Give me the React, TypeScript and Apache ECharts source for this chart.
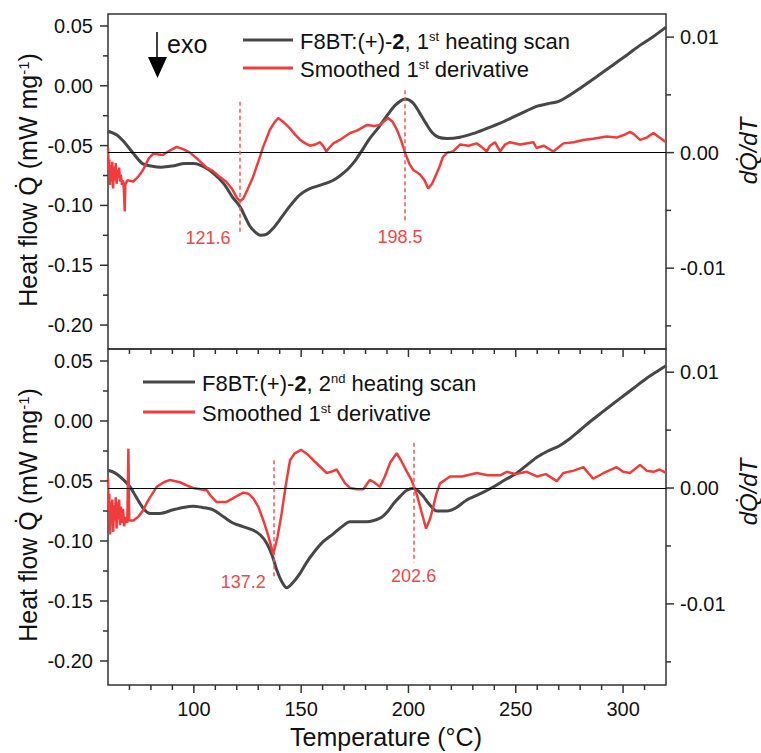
import React, { useEffect, useRef } from "react";
import * as echarts from "echarts";

const FONT = '"Liberation Sans", Arial, Helvetica, sans-serif';
const BLACK = "#474747";
const RED = "#f03c3c";
const RED_TXT = "#f04848";
const AXIS = "#333333";

// ---------- tick values ----------
const xMajorTicks = [100, 150, 200, 250, 300];
const xMinorTicks = [70, 80, 90, 110, 120, 130, 140, 160, 170, 180, 190, 210, 220, 230, 240, 260, 270, 280, 290, 310];
const qMajorTicks = [-0.2, -0.15, -0.1, -0.05, 0, 0.05];
const qMinorTicks = [-0.175, -0.125, -0.075, -0.025, 0.025];
const dMajorTicks = [-0.01, 0, 0.01];
const dMinorTicks = [-0.015, -0.005, 0.005];

// ---------- 1st heating: heat flow ----------
const heat1T = [60, 64, 68, 72, 76, 80, 85, 90, 96, 100, 105, 109, 114, 118, 121.5, 126, 129, 131, 134, 137, 140, 145, 149.5, 154, 159, 165, 171, 175, 178, 182, 186, 190, 194, 198.4, 202, 205, 208, 211, 214, 218, 224, 230, 236, 243, 249, 255, 260, 265, 270, 275, 280, 288, 295, 302, 308, 314, 320];
const heat1Q = [-0.038, -0.041, -0.048, -0.057, -0.065, -0.067, -0.068, -0.067, -0.065, -0.065, -0.068, -0.073, -0.082, -0.093, -0.101, -0.117, -0.123, -0.125, -0.124, -0.119, -0.112, -0.1, -0.091, -0.086, -0.083, -0.079, -0.071, -0.063, -0.055, -0.044, -0.035, -0.025, -0.016, -0.011, -0.014, -0.022, -0.031, -0.039, -0.043, -0.044, -0.043, -0.04, -0.036, -0.031, -0.026, -0.021, -0.017, -0.015, -0.013, -0.008, -0.002, 0.008, 0.017, 0.026, 0.034, 0.041, 0.049];

// ---------- 1st heating: smoothed derivative ----------
const deriv1T = [60, 60.3, 60.6, 61, 61.3, 61.7, 62, 62.4, 62.8, 63.2, 63.6, 64, 64.4, 64.8, 65.2, 65.6, 66, 66.5, 67, 67.4, 67.8, 68.1, 69, 71.8, 74, 76.3, 79, 81, 85.6, 89, 92, 95, 98.2, 102, 106, 109, 112, 115, 118, 120, 121.5, 123, 125, 127.6, 130, 132.3, 135.5, 137.5, 139.3, 142, 144.8, 147, 149.5, 152, 154, 156.5, 158.8, 160.5, 161.7, 163, 165, 168, 172.8, 176, 180.7, 184, 186.7, 190.5, 192.5, 194.6, 196.5, 198.4, 200.5, 202.3, 205.4, 207.5, 209.2, 211, 212.4, 214.5, 216, 218, 220.8, 224, 228, 231.8, 234, 236.5, 238, 240.3, 242.7, 245, 247.3, 252, 258.2, 259.7, 263, 267.5, 272.2, 277, 281.5, 286, 292.4, 297, 300, 303.2, 305, 307.9, 311, 314.1, 317, 320];
const deriv1D = [0.0004, -0.0015, -0.0006, -0.0028, -0.0011, -0.0025, -0.0008, -0.0031, -0.0012, -0.0024, -0.0009, -0.0027, -0.0015, -0.0022, -0.0013, -0.0025, -0.0019, -0.0028, -0.0024, -0.0032, -0.0051, -0.0027, -0.0024, -0.0025, -0.0021, -0.0015, -0.0005, -0.0001, -0.0002, 0.0002, 0.0005, 0.0003, 0.0, -0.0006, -0.0013, -0.0016, -0.0021, -0.0025, -0.0032, -0.0039, -0.0042, -0.004, -0.0032, -0.0021, -0.0008, 0.0005, 0.002, 0.0026, 0.003, 0.0026, 0.0021, 0.0016, 0.0011, 0.0008, 0.0006, 0.0007, 0.0009, 0.0005, 0.0001, 0.0004, 0.0008, 0.0011, 0.0017, 0.0019, 0.0024, 0.0023, 0.0024, 0.003, 0.0027, 0.002, 0.0011, 0.0, -0.001, -0.0015, -0.0019, -0.0024, -0.0031, -0.0027, -0.0021, -0.0012, -0.0004, 0.0, 0.0001, 0.0007, 0.0006, 0.0008, 0.0005, 0.0001, 0.0006, 0.0009, 0.0001, 0.0007, 0.0009, 0.0007, 0.0009, 0.0004, 0.0006, 0.0001, 0.0008, 0.0009, 0.0011, 0.0012, 0.0014, 0.0013, 0.0015, 0.0018, 0.0016, 0.0011, 0.0013, 0.0017, 0.0013, 0.0009];

// ---------- 2nd heating: heat flow ----------
const heat2T = [60, 63, 66, 70.3, 73, 75, 77, 79.6, 84.2, 90.3, 95, 99.7, 104, 109, 114, 118.2, 123, 127.6, 131, 134, 136.5, 138.6, 141, 143.3, 146, 149.5, 152.5, 155.7, 160, 165, 169, 172.8, 176, 180.6, 186.7, 190, 193, 196, 199, 202.3, 205, 207, 210, 213.2, 217.8, 222, 227, 233, 239.5, 245, 250, 256, 260, 265, 270, 275, 280, 285, 290, 298, 305, 311, 316, 320];
const heat2Q = [-0.041, -0.043, -0.047, -0.055, -0.063, -0.069, -0.074, -0.077, -0.077, -0.074, -0.072, -0.071, -0.072, -0.074, -0.08, -0.085, -0.088, -0.091, -0.095, -0.102, -0.112, -0.124, -0.134, -0.139, -0.135, -0.127, -0.118, -0.11, -0.101, -0.094, -0.088, -0.084, -0.084, -0.084, -0.081, -0.076, -0.069, -0.063, -0.058, -0.056, -0.059, -0.063, -0.07, -0.075, -0.075, -0.0725, -0.066, -0.061, -0.055, -0.049, -0.044, -0.0355, -0.03, -0.025, -0.021, -0.015, -0.0075, 0.0, 0.007, 0.018, 0.0275, 0.0356, 0.0415, 0.046];

// ---------- 2nd heating: smoothed derivative ----------
const deriv2T = [60, 60.3, 60.6, 61, 61.3, 61.7, 62, 62.4, 62.8, 63.2, 63.6, 64, 64.4, 64.8, 65.2, 65.6, 66, 66.5, 67, 67.5, 68.2, 69, 69.5, 69.9, 71.8, 74, 76.5, 78, 79.6, 82.7, 86, 88.9, 93.5, 97, 99.7, 103, 106, 108, 110.5, 113, 115.2, 119, 123, 125.5, 127.7, 130, 132.4, 134.5, 137, 139, 140.9, 142.8, 144.8, 147, 150, 153, 155.7, 158.5, 161.9, 164, 166.5, 168.5, 170.5, 172.8, 176, 179, 180.5, 182, 184, 186.7, 189, 191.5, 194.5, 196.5, 199, 201.4, 203.8, 206, 208.2, 210, 211.6, 213, 214.7, 219.4, 225, 231.8, 237, 242.7, 245.8, 250, 255.1, 259.8, 264, 269.1, 272.2, 277, 281.5, 286.1, 291, 297, 300, 303.2, 307.9, 311, 314.1, 317, 320];
const deriv2D = [0.0009, -0.002, -0.0005, -0.004, -0.0012, -0.003, -0.001, -0.0038, -0.0015, -0.0028, -0.0008, -0.0035, -0.0012, -0.0027, -0.001, -0.0032, -0.0016, -0.003, -0.0018, -0.0033, -0.0025, -0.003, 0.0034, -0.0028, -0.0028, -0.0025, -0.0019, -0.0013, -0.0008, 0.0001, 0.0005, 0.0007, 0.0005, 0.0002, 0.0, -0.0001, -0.0002, -0.0007, -0.0012, -0.0012, -0.0012, -0.0008, -0.0004, -0.0005, -0.0009, -0.0016, -0.0028, -0.004, -0.0057, -0.0042, -0.0022, 0.0002, 0.0024, 0.003, 0.0033, 0.0029, 0.0024, 0.0019, 0.0013, 0.0014, 0.0016, 0.001, 0.0004, 0.0, -0.0001, -0.0001, 0.0003, 0.0007, 0.0005, 0.0001, 0.001, 0.0022, 0.003, 0.0024, 0.0015, 0.0007, -0.0005, -0.002, -0.0035, -0.0027, -0.0016, -0.0005, 0.0004, 0.001, 0.001, 0.0013, 0.0011, 0.0011, 0.0014, 0.0012, 0.0014, 0.001, 0.0012, 0.0006, 0.0013, 0.0015, 0.0018, 0.0008, 0.0013, 0.0018, 0.0014, 0.0013, 0.002, 0.0015, 0.0014, 0.0016, 0.0013];

// ---------- onset temperatures ----------
const onsets1 = [121.6, 198.5];
const onsets2 = [137.2, 202.6];

const zip = (a: number[], b: number[]) => a.map((t, i) => [t, b[i]]);

const X_MIN = 60, X_MAX = 320;
const Q_MIN = -0.22, Q_MAX = 0.06;
const D_MIN = -0.017, D_MAX = 0.012;
const GRID_LEFT = 108;
const GRID_W = 558;

function xAxis(gridIndex: number, showLabels: boolean) {
  return {
    type: "value", gridIndex, min: X_MIN, max: X_MAX, position: "bottom",
    axisLine: { show: false, onZero: false },
    axisTick: { show: false },
    axisLabel: showLabels
      ? { show: true, customValues: xMajorTicks, margin: 14, fontSize: 20, color: "#111", fontFamily: FONT }
      : { show: false },
    splitLine: { show: false },
  };
}

function yAxis(gridIndex: number, pos: string, min: number, max: number, ticks: number[], margin: number) {
  return {
    type: "value", gridIndex, min, max, position: pos,
    axisLine: { show: false },
    axisTick: { show: false },
    axisLabel: { show: true, customValues: ticks, margin, fontSize: 20, color: "#111", fontFamily: FONT, formatter: (v: number) => v.toFixed(2) },
    splitLine: { show: false },
  };
}

function dashLine(t: number, top: number, bottom: number) {
  return [{ coord: [t, top] }, { coord: [t, bottom] }];
}

const legendRich = {
  a: { fontSize: 22, fontFamily: FONT, fill: "#111" },
  b: { fontSize: 22, fontFamily: FONT, fontWeight: "bold", fill: "#111" },
  s: { fontSize: 13, fontFamily: FONT, fill: "#111", verticalAlign: "top" },
};
const titleRich = {
  a: { fontSize: 25, fontFamily: FONT, fill: "#111" },
  s: { fontSize: 15, fontFamily: FONT, fill: "#111", verticalAlign: "top" },
};

export default function App() {
  const ref = useRef<HTMLDivElement>(null);
  useEffect(() => {
    if (!ref.current) return;
    const chart = echarts.init(ref.current, undefined, { renderer: "svg" });

    const redSeries = (xi: number, yi: number, T: number[], D: number[], onsets: number[], dashes: number[][], labelPos: number[][]) => ({
      type: "line", name: "Smoothed 1st derivative", xAxisIndex: xi, yAxisIndex: yi,
      data: zip(T, D), symbol: "none", showSymbol: false,
      lineStyle: { color: RED, width: 2.5 }, itemStyle: { color: RED }, z: 3,
      markLine: {
        silent: true, symbol: ["none", "none"], label: { show: false },
        lineStyle: { color: "#f25555", width: 1.5, type: [4, 3] },
        data: [
          { yAxis: 0, lineStyle: { color: "#000", width: 1, type: "solid" } },
          dashLine(onsets[0], dashes[0][0], dashes[0][1]),
          dashLine(onsets[1], dashes[1][0], dashes[1][1]),
        ],
      },
      markPoint: {
        silent: true, symbol: "circle", symbolSize: 0,
        label: { show: true, position: "inside", formatter: "{b}", color: RED_TXT, fontSize: 18, fontFamily: FONT },
        data: onsets.map((o, i) => ({ name: String(o), coord: labelPos[i] })),
      },
    });

    const baseGraphic: any[] = [
      // legend top
      { type: "line", shape: { x1: 243, y1: 40, x2: 293, y2: 40 }, style: { stroke: BLACK, lineWidth: 3 } },
      { type: "text", x: 300, y: 41, style: { text: "{a|F8BT:(+)-}{b|2}{a|, 1}{s|st}{a| heating scan}", rich: legendRich, align: "left", verticalAlign: "middle", fill: "#111" } },
      { type: "line", shape: { x1: 243, y1: 68, x2: 293, y2: 68 }, style: { stroke: RED, lineWidth: 3 } },
      { type: "text", x: 300, y: 69, style: { text: "{a|Smoothed 1}{s|st}{a| derivative}", rich: legendRich, align: "left", verticalAlign: "middle", fill: "#111" } },
      // legend bottom
      { type: "line", shape: { x1: 143, y1: 382, x2: 195, y2: 382 }, style: { stroke: BLACK, lineWidth: 3 } },
      { type: "text", x: 202, y: 383, style: { text: "{a|F8BT:(+)-}{b|2}{a|, 2}{s|nd}{a| heating scan}", rich: legendRich, align: "left", verticalAlign: "middle", fill: "#111" } },
      { type: "line", shape: { x1: 143, y1: 412, x2: 195, y2: 412 }, style: { stroke: RED, lineWidth: 3 } },
      { type: "text", x: 202, y: 413, style: { text: "{a|Smoothed 1}{s|st}{a| derivative}", rich: legendRich, align: "left", verticalAlign: "middle", fill: "#111" } },
      // exo arrow
      { type: "line", shape: { x1: 157, y1: 32, x2: 157, y2: 60 }, style: { stroke: "#000", lineWidth: 1.5 } },
      { type: "polygon", shape: { points: [[148, 57], [167, 57], [157.5, 78]] }, style: { fill: "#000" } },
      { type: "text", x: 167, y: 44, style: { text: "exo", fontSize: 25, fontFamily: FONT, fill: "#111", align: "left", verticalAlign: "middle" } },
      // axis titles
      { type: "text", x: 28, y: 180, rotation: Math.PI / 2, style: { text: "{a|Heat flow Q\u0307 (mW mg}{s|-1}{a|)}", rich: titleRich, align: "center", verticalAlign: "middle", fill: "#111" } },
      { type: "text", x: 28, y: 515, rotation: Math.PI / 2, style: { text: "{a|Heat flow Q\u0307 (mW mg}{s|-1}{a|)}", rich: titleRich, align: "center", verticalAlign: "middle", fill: "#111" } },
      { type: "text", x: 748, y: 151, rotation: Math.PI / 2, style: { text: "dQ\u0307/dT", fontSize: 24, fontStyle: "italic", fontFamily: FONT, fill: "#111", align: "center", verticalAlign: "middle" } },
      { type: "text", x: 748, y: 492, rotation: Math.PI / 2, style: { text: "dQ\u0307/dT", fontSize: 24, fontStyle: "italic", fontFamily: FONT, fill: "#111", align: "center", verticalAlign: "middle" } },
      { type: "text", x: 386, y: 737, style: { text: "Temperature (\u00B0C)", fontSize: 25, fontFamily: FONT, fill: "#111", align: "center", verticalAlign: "middle" } },
    ];

    const option: any = {
      animation: false,
      backgroundColor: "#fff",
      grid: [
        { left: GRID_LEFT, top: 14, width: GRID_W, height: 335, show: true, borderColor: AXIS, borderWidth: 1.5, containLabel: false },
        { left: GRID_LEFT, top: 349, width: GRID_W, height: 336, show: true, borderColor: AXIS, borderWidth: 1.5, containLabel: false },
      ],
      xAxis: [xAxis(0, false), xAxis(1, true)],
      yAxis: [
        yAxis(0, "left", Q_MIN, Q_MAX, qMajorTicks, 15),
        yAxis(0, "right", D_MIN, D_MAX, dMajorTicks, 14),
        yAxis(1, "left", Q_MIN, Q_MAX, qMajorTicks, 15),
        yAxis(1, "right", D_MIN, D_MAX, dMajorTicks, 14),
      ],
      series: [
        {
          type: "line", name: "F8BT:(+)-2, 1st heating scan", xAxisIndex: 0, yAxisIndex: 0,
          data: zip(heat1T, heat1Q), symbol: "none", showSymbol: false, smooth: 0.3,
          lineStyle: { color: BLACK, width: 3 }, itemStyle: { color: BLACK }, z: 2,
        },
        redSeries(0, 1, deriv1T, deriv1D, onsets1, [[0.0044, -0.0071], [0.0054, -0.006]], [[106.6, -0.0074], [196.1, -0.0073]]),
        {
          type: "line", name: "F8BT:(+)-2, 2nd heating scan", xAxisIndex: 1, yAxisIndex: 2,
          data: zip(heat2T, heat2Q), symbol: "none", showSymbol: false, smooth: 0.3,
          lineStyle: { color: BLACK, width: 3 }, itemStyle: { color: BLACK }, z: 2,
        },
        redSeries(1, 3, deriv2T, deriv2D, onsets2, [[0.0024, -0.0079], [0.0039, -0.0064]], [[123.0, -0.0081], [202.4, -0.0076]]),
      ],
      graphic: baseGraphic,
    };
    chart.setOption(option);

    // tick marks placed through the axes' own scales
    const ticks: any[] = [];
    const tick = (xi: number, yi: number, val: number[], dx: number, dy: number, len: number) => {
      const p = chart.convertToPixel({ xAxisIndex: xi, yAxisIndex: yi } as any, val) as any;
      if (!p || isNaN(p[0]) || isNaN(p[1])) return;
      ticks.push({
        type: "line", z: 50, silent: true,
        shape: { x1: p[0], y1: p[1], x2: p[0] + dx * len, y2: p[1] + dy * len },
        style: { stroke: AXIS, lineWidth: 1.5 },
      });
    };
    const panel = (xi: number, yl: number, yr: number) => {
      xMajorTicks.forEach((t) => tick(xi, yl, [t, Q_MIN], 0, 1, 8));
      xMinorTicks.forEach((t) => tick(xi, yl, [t, Q_MIN], 0, 1, 5));
      qMajorTicks.forEach((q) => tick(xi, yl, [X_MIN, q], -1, 0, 8));
      qMinorTicks.forEach((q) => tick(xi, yl, [X_MIN, q], -1, 0, 5));
      dMajorTicks.forEach((d) => tick(xi, yr, [X_MAX, d], 1, 0, 8));
      dMinorTicks.forEach((d) => tick(xi, yr, [X_MAX, d], 1, 0, 5));
    };
    panel(0, 0, 1);
    panel(1, 2, 3);
    chart.setOption({ graphic: [...baseGraphic, ...ticks] });

    return () => chart.dispose();
  }, []);
  return <div ref={ref} style={{ position: "absolute", left: 0, top: 0, width: 761, height: 753, background: "#fff" }} />;
}
